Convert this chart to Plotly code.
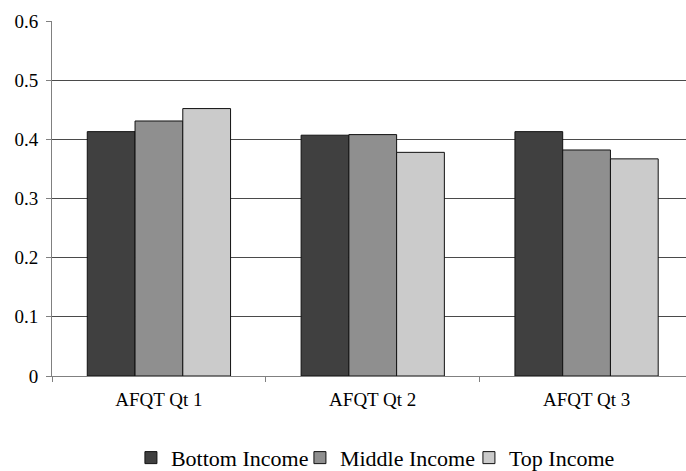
import plotly.graph_objects as go

categories = ["AFQT Qt 1", "AFQT Qt 2", "AFQT Qt 3"]
series_names = ["Bottom Income", "Middle Income", "Top Income"]
bottom_income = [0.413, 0.407, 0.413]
middle_income = [0.431, 0.408, 0.382]
top_income = [0.452, 0.378, 0.367]
y_ticks = [0, 0.1, 0.2, 0.3, 0.4, 0.5, 0.6]
y_tick_labels = ["0", "0.1", "0.2", "0.3", "0.4", "0.5", "0.6"]

colors = ["#404040", "#8f8f8f", "#cbcbcb"]
font_family = "Liberation Serif"

fig = go.Figure()
for name, vals, col in zip(series_names, [bottom_income, middle_income, top_income], colors):
    fig.add_trace(go.Bar(
        x=categories, y=vals, name=name,
        marker=dict(color=col, line=dict(color="#111111", width=1)),
    ))

fig.update_layout(
    width=686, height=471,
    margin=dict(l=51.5, r=0, t=20.5, b=95),
    plot_bgcolor="white", paper_bgcolor="white",
    barmode="group", bargap=0.33, bargroupgap=0,
    font=dict(family=font_family, color="black", size=19),
    showlegend=True,
    legend=dict(
        orientation="h", x=0.1245, xanchor="left",
        yref="container", y=0.028, yanchor="middle",
        font=dict(size=22, family=font_family, color="black"),
        itemwidth=30, tracegroupgap=0,
        entrywidth=124, entrywidthmode="pixels",
    ),
)
fig.update_xaxes(
    range=[-0.5, 2.465],
    showline=True, linecolor="#808080", linewidth=1,
    ticks="outside", tickson="boundaries", ticklen=5, tickcolor="#808080",
    showgrid=False, tickfont=dict(size=19, family=font_family),
    ticklabelstandoff=6,
)
fig.update_yaxes(
    range=[0, 0.6],
    tickvals=y_ticks, ticktext=y_tick_labels,
    showline=True, linecolor="#808080", linewidth=1,
    ticks="outside", ticklen=5, tickcolor="#808080",
    showgrid=True, gridcolor="#4a4a4a", gridwidth=1,
    zeroline=False, tickfont=dict(size=19, family=font_family),
    ticklabelstandoff=4,
)

fig.write_html("out.html")
